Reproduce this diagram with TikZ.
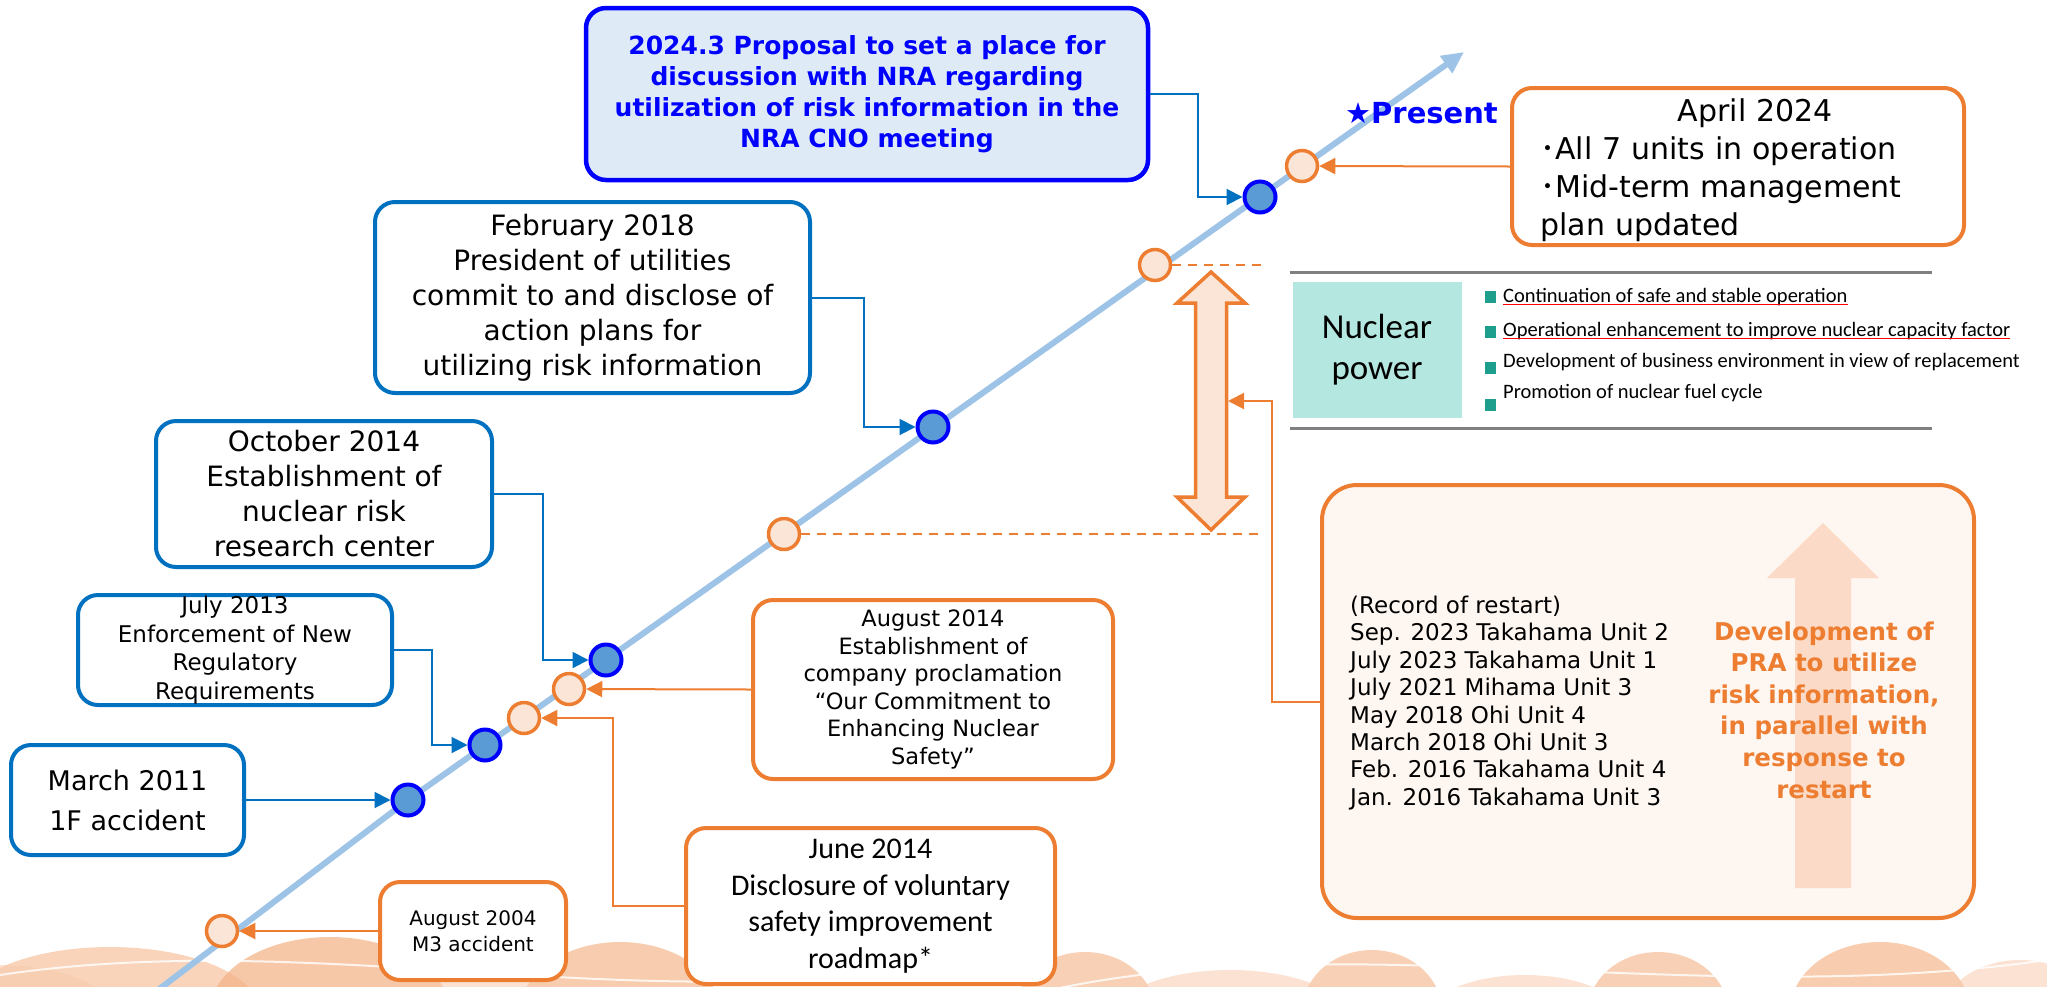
\documentclass[tikz,border=0pt]{standalone}
\usepackage{fontspec}
\setmainfont{DejaVu Sans}
\newfontfamily\calibri{Carlito}
\newfontfamily\cjkfont{Noto Sans CJK JP}
\usetikzlibrary{arrows.meta,positioning,calc}

\definecolor{tlblue}{HTML}{9DC3E6}
\definecolor{boxblue}{HTML}{0070C0}
\definecolor{pureblue}{HTML}{0000FF}
\definecolor{dotblue}{HTML}{5B9BD5}
\definecolor{paleblue}{HTML}{DEEBF7}
\definecolor{korange}{HTML}{ED7D31}
\definecolor{paleorange}{HTML}{FBE5D6}
\definecolor{restartfill}{HTML}{FEF6F0}
\definecolor{bigarrow}{HTML}{FBDBC7}
\definecolor{tealfill}{HTML}{B3E7E0}
\definecolor{tealdot}{HTML}{1E9E8C}
\definecolor{wavedark}{HTML}{F4B183}
\definecolor{wavelight}{HTML}{F8CBAD}
\definecolor{rulegray}{HTML}{808080}

\begin{document}
\begin{tikzpicture}[x=1pt, y=-1pt,
    bluebox/.style={rectangle, draw=boxblue, fill=white, line width=4pt, rounded corners=20pt, align=center, inner sep=0pt},
    orgbox/.style={rectangle, draw=korange, fill=white, line width=4pt, rounded corners=20pt, align=center, inner sep=0pt},
    bdot/.style={circle, draw=pureblue, fill=dotblue, line width=4pt, minimum size=31pt, inner sep=0pt},
    odot/.style={circle, draw=korange, fill=paleorange, line width=3.5pt, minimum size=31pt, inner sep=0pt},
    bluelink/.style={draw=boxblue, line width=2pt, -{Triangle[length=16pt, width=16pt]}},
    orglink/.style={draw=korange, line width=2pt, -{Triangle[length=16pt, width=16pt]}},
    guide/.style={draw=korange, line width=2.5pt, dash pattern=on 9pt off 7pt},
    item/.style={font=\calibri\fontsize{20.5}{24}\selectfont, inner sep=0pt, anchor=base west},
    sqr/.style={rectangle, fill=tealdot, minimum width=11pt, minimum height=12pt, inner sep=0pt},
]
    \useasboundingbox (0,0) rectangle (2047,986);

    % Background waves (bottom)
    \begin{scope}
        \clip (0,0) rectangle (2047,986);
        \foreach \cx/\rx/\ry/\op in {110/150/65/0.55, 330/120/75/0.7, 620/100/70/0.65, 1085/70/60/0.6, 1372/70/62/0.6, 1658/70/60/0.6, 1880/90/70/0.65}
            \fill[wavedark, opacity=\op] (\cx,1012) ellipse [x radius=\rx, y radius=\ry];
        \foreach \cx/\rx/\ry in {0/120/55, 470/110/50, 1230/120/50, 1525/100/45, 2020/80/60}
            \fill[wavelight, opacity=0.55] (\cx,1020) ellipse [x radius=\rx, y radius=\ry];
        \draw[white, line width=2pt, opacity=0.8] (0,975) .. controls (300,930) and (600,1010) .. (900,970);
        \draw[white, line width=2pt, opacity=0.8] (1050,990) .. controls (1350,925) and (1700,1010) .. (2047,960);
    \end{scope}

    % Timeline
    \coordinate (tl0) at (158,990);
    \coordinate (tlk) at (408,800);
    \coordinate (tl1) at (1464,52);
    \draw[tlblue, line width=6pt, line join=round, -{Triangle[length=22pt, width=20pt]}] (tl0) -- (tlk) -- (tl1);

    % Events on the timeline
    \node[odot] (o1) at (222,931) {};
    \node[bdot] (b1) at (408,800) {};
    \node[bdot] (b2) at (485,745) {};
    \node[odot] (o2) at (524,718) {};
    \node[odot] (o3) at (569,689) {};
    \node[bdot] (b3) at (606,660) {};
    \node[odot] (o4) at (784,534) {};
    \node[bdot] (b4) at (933,427) {};
    \node[odot] (o5) at (1155,265) {};
    \node[bdot] (b5) at (1260,197) {};
    \node[odot] (o6) at (1302,166) {};

    % Blue boxes (left side)
    \node[bluebox, draw=pureblue, fill=paleblue, line width=4.5pt, minimum width=562pt, minimum height=172pt,
          text=pureblue, font=\bfseries\fontsize{25}{31}\selectfont] (prop) at (867,94)
          {2024.3 Proposal to set a place for\\discussion with NRA regarding\\utilization of risk information in the\\NRA CNO meeting};
    \node[bluebox, minimum width=435pt, minimum height=191pt, font=\fontsize{28}{35}\selectfont] (feb) at (592.5,297.5)
          {February 2018\\President of utilities\\commit to and disclose of\\action plans for\\utilizing risk information};
    \node[bluebox, minimum width=336pt, minimum height=146pt, font=\fontsize{28}{35}\selectfont] (oct) at (324,494)
          {October 2014\\Establishment of\\nuclear risk\\research center};
    \node[bluebox, minimum width=314pt, minimum height=110pt, font=\fontsize{23}{28.5}\selectfont] (jul) at (235,650)
          {July 2013\\Enforcement of New\\Regulatory\\Requirements};
    \node[bluebox, minimum width=233pt, minimum height=110pt, font=\fontsize{27}{40}\selectfont] (mar) at (127.5,800)
          {March 2011\\1F accident};

    % Orange boxes
    \node[orgbox, minimum width=360pt, minimum height=179pt, font=\fontsize{22.5}{27.5}\selectfont] (aug14) at (933,689.5)
          {August 2014\\Establishment of\\company proclamation\\“Our Commitment to\\Enhancing Nuclear\\Safety”};
    \node[orgbox, minimum width=369pt, minimum height=156pt, font=\calibri\fontsize{30}{36.5}\selectfont] (jun) at (870.5,906)
          {June 2014\\Disclosure of voluntary\\safety improvement\\roadmap*};
    \node[orgbox, minimum width=186pt, minimum height=98pt, font=\fontsize{20}{26}\selectfont] (aug04) at (473,931)
          {August 2004\\M3 accident};
    \node[orgbox, minimum width=452pt, minimum height=157pt] (apr) at (1738,166.5) {};
    \node[font=\fontsize{30}{38}\selectfont, align=left, text width=430pt, anchor=north west, inner sep=0pt] (aprtxt) at (1540,99)
          {\makebox[\linewidth]{April 2024}\\{\cjkfont ･}All 7 units in operation\\{\cjkfont ･}Mid-term management\\plan updated};

    \node[text=pureblue, font=\bfseries\fontsize{29}{35}\selectfont, anchor=west, inner sep=0pt] (present) at (1345,113) {★Present};

    % Nuclear power panel
    \draw[rulegray, line width=3pt] (1290,272) -- (1932,272);
    \draw[rulegray, line width=3pt] (1290,428) -- (1932,428);
    \node[fill=tealfill, minimum width=169pt, minimum height=136pt, inner sep=0pt, align=center,
          font=\calibri\fontsize{35}{41}\selectfont] (nuc) at (1377,350) {Nuclear\\power};
    \node[sqr] at (1490,297) {};
    \node[sqr] at (1490,332) {};
    \node[sqr] at (1490,368) {};
    \node[sqr] at (1490,405) {};
    \node[item] (it1) at (1503,302) {Continuation of safe and stable operation};
    \node[item] (it2) at (1503,336) {Operational enhancement to improve nuclear capacity factor};
    \node[item] (it3) at (1503,367) {Development of business environment in view of replacement};
    \node[item] (it4) at (1503,398) {Promotion of nuclear fuel cycle};
    \draw[red, line width=1.5pt] ([yshift=-2.5pt]it1.base west) -- ([yshift=-2.5pt]it1.base east);
    \draw[red, line width=1.5pt] ([yshift=-2.5pt]it2.base west) -- ([yshift=-2.5pt]it2.base east);

    % Double arrow between restart and present
    \draw[korange, fill=paleorange, line width=3.5pt, line join=miter]
        (1211,272) -- (1245,303) -- (1226.5,303) -- (1226.5,497) -- (1245,497) -- (1211,530)
        -- (1177,497) -- (1195.5,497) -- (1195.5,303) -- (1177,303) -- cycle;
    \coordinate (dbl) at (1228,401);
    \coordinate (gtop) at (1268,265);
    \coordinate (gbot) at (1258,534);
    \draw[guide] (o5.east) -- (gtop);
    \draw[guide] (o4.east) -- (gbot);

    % Restart box
    \node[rectangle, draw=korange, fill=restartfill, line width=4pt, rounded corners=35pt,
          minimum width=652pt, minimum height=433pt] (rst) at (1648,701.5) {};
    \fill[bigarrow] (1823,523) -- (1879,578) -- (1851,578) -- (1851,888) -- (1795,888) -- (1795,578) -- (1767,578) -- cycle;
    \node[font=\fontsize{23}{27.4}\selectfont, align=left, anchor=west, inner sep=0pt] (rstlist) at (1350,703)
          {(Record of restart)\\Sep. 2023 Takahama Unit 2\\July 2023 Takahama Unit 1\\July 2021 Mihama Unit 3\\May 2018 Ohi Unit 4\\March 2018 Ohi Unit 3\\Feb. 2016 Takahama Unit 4\\Jan. 2016 Takahama Unit 3};
    \node[text=korange, font=\bfseries\fontsize{24.5}{31.6}\selectfont, align=center, inner sep=0pt] (rstpra) at (1824,710)
          {Development of\\PRA to utilize\\risk information,\\in parallel with\\response to\\restart};

    % Connectors
    \draw[bluelink] (prop.east) -- ++(48,0) |- (b5);
    \draw[bluelink] (feb.east) -- ++(52,0) |- (b4);
    \draw[bluelink] (oct.east) -- ++(49,0) |- (b3);
    \draw[bluelink] (jul.east) -- ++(38,0) |- (b2);
    \draw[bluelink] (mar.east) -- (b1);
    \draw[orglink] (aug14.west) -- (o3);
    \draw[orglink] (jun.west) -- ++(-71,0) |- (o2);
    \draw[orglink] (aug04.west) -- (o1);
    \draw[orglink] (apr.west) -- (o6);
    \draw[orglink] (rst.west) -- ++(-48,0) |- (dbl);
\end{tikzpicture}
\end{document}
